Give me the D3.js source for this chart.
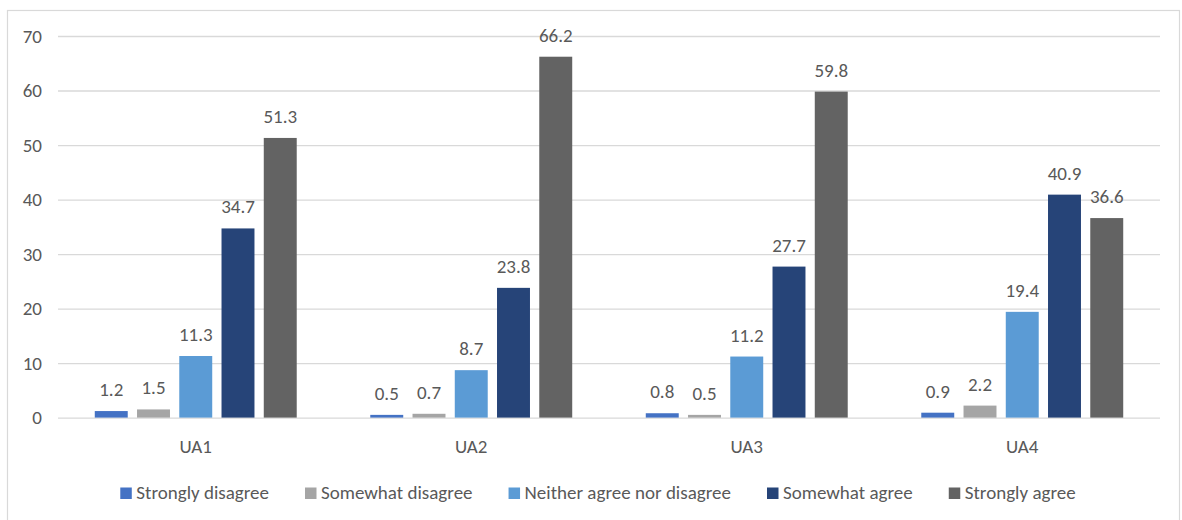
<!DOCTYPE html>
<html>
<head>
<meta charset="utf-8">
<script src="https://cdn.jsdelivr.net/npm/d3@7"></script>
<style>
  html, body { margin: 0; padding: 0; background: #fff; }
  svg { display: block; }
  text { font-family: Carlito, Calibri, Lato, "Open Sans", sans-serif; fill: #595959; }
</style>
</head>
<body>
<svg id="chart" width="1182" height="520"></svg>
<script>
// Survey responses (%) per item
const categories = ["UA1", "UA2", "UA3", "UA4"];
const seriesNames = ["Strongly disagree", "Somewhat disagree", "Neither agree nor disagree", "Somewhat agree", "Strongly agree"];
const stronglyDisagree = [1.2, 0.5, 0.8, 0.9];
const somewhatDisagree = [1.5, 0.7, 0.5, 2.2];
const neither = [11.3, 8.7, 11.2, 19.4];
const somewhatAgree = [34.7, 23.8, 27.7, 40.9];
const stronglyAgree = [51.3, 66.2, 59.8, 36.6];
const yTicks = [0, 10, 20, 30, 40, 50, 60, 70];
const colors = ["#4472C4", "#A5A5A5", "#5B9BD5", "#264478", "#636363"];

const seriesValues = [stronglyDisagree, somewhatDisagree, neither, somewhatAgree, stronglyAgree];

const FONT = "Carlito, Calibri, Lato, 'Open Sans', sans-serif";
const FS = 19;

const svg = d3.select("#chart");
const plot = { left: 58, right: 1160, top: 36, bottom: 417.6 };

// Chart frame
svg.append("rect")
  .attr("x", 7.5).attr("y", 10.5)
  .attr("width", 1172).attr("height", 530)
  .attr("fill", "#fff").attr("stroke", "#D9D9D9").attr("stroke-width", 1.2);

const y = d3.scaleLinear().domain([0, 70]).range([plot.bottom, plot.top]);
const x0 = d3.scaleBand().domain(categories).range([plot.left, plot.right])
  .paddingInner(0.267).paddingOuter(0.1335);
const x1 = d3.scaleBand().domain(seriesNames).range([0, x0.bandwidth()])
  .paddingInner(0.22).paddingOuter(0);

// Gridlines and y axis labels
const yAxis = d3.axisLeft(y).tickValues(yTicks)
  .tickSize(-(plot.right - plot.left)).tickPadding(16);
const gy = svg.append("g").attr("transform", `translate(${plot.left},0)`).call(yAxis);
gy.select(".domain").remove();
gy.selectAll(".tick line").attr("stroke", "#D9D9D9").attr("stroke-width", 1.3);
gy.selectAll(".tick text").attr("font-size", FS).attr("font-family", FONT).style("fill", "#595959");

// Category labels
const xAxis = d3.axisBottom(x0).tickSize(0).tickPadding(0);
const gx = svg.append("g").attr("transform", `translate(0,${plot.bottom})`).call(xAxis);
gx.select(".domain").remove();
gx.selectAll(".tick text").attr("font-size", FS).attr("font-family", FONT)
  .attr("dy", 0).attr("y", 35).style("fill", "#595959");

// Bars
const rows = [];
categories.forEach((c, i) => {
  seriesNames.forEach((s, j) => rows.push({ cat: c, series: s, idx: j, value: seriesValues[j][i] }));
});

const groups = svg.append("g").selectAll("g").data(rows).join("g");
groups.append("rect")
  .attr("x", d => x0(d.cat) + x1(d.series))
  .attr("y", d => y(d.value))
  .attr("width", x1.bandwidth())
  .attr("height", d => y(0) - y(d.value))
  .attr("fill", d => colors[d.idx]);

groups.append("text")
  .attr("x", d => x0(d.cat) + x1(d.series) + x1.bandwidth() / 2)
  .attr("y", d => y(d.value) - 15)
  .attr("text-anchor", "middle")
  .attr("font-size", FS)
  .text(d => d.value.toFixed(1));

// Legend
const legend = svg.append("g");
const items = legend.selectAll("g").data(seriesNames).join("g");
items.append("rect").attr("width", 11.5).attr("height", 11.5).attr("y", -11.5)
  .attr("fill", (d, i) => colors[i]);
items.append("text").attr("x", 16).attr("font-size", FS).text(d => d);
let cx = 0;
const gap = 36;
items.each(function() {
  const w = d3.select(this).select("text").node().getComputedTextLength() + 16;
  d3.select(this).attr("transform", `translate(${cx},0)`);
  cx += w + gap;
});
const totalW = cx - gap;
legend.attr("transform", `translate(${598 - totalW / 2},499)`);
</script>
</body>
</html>
